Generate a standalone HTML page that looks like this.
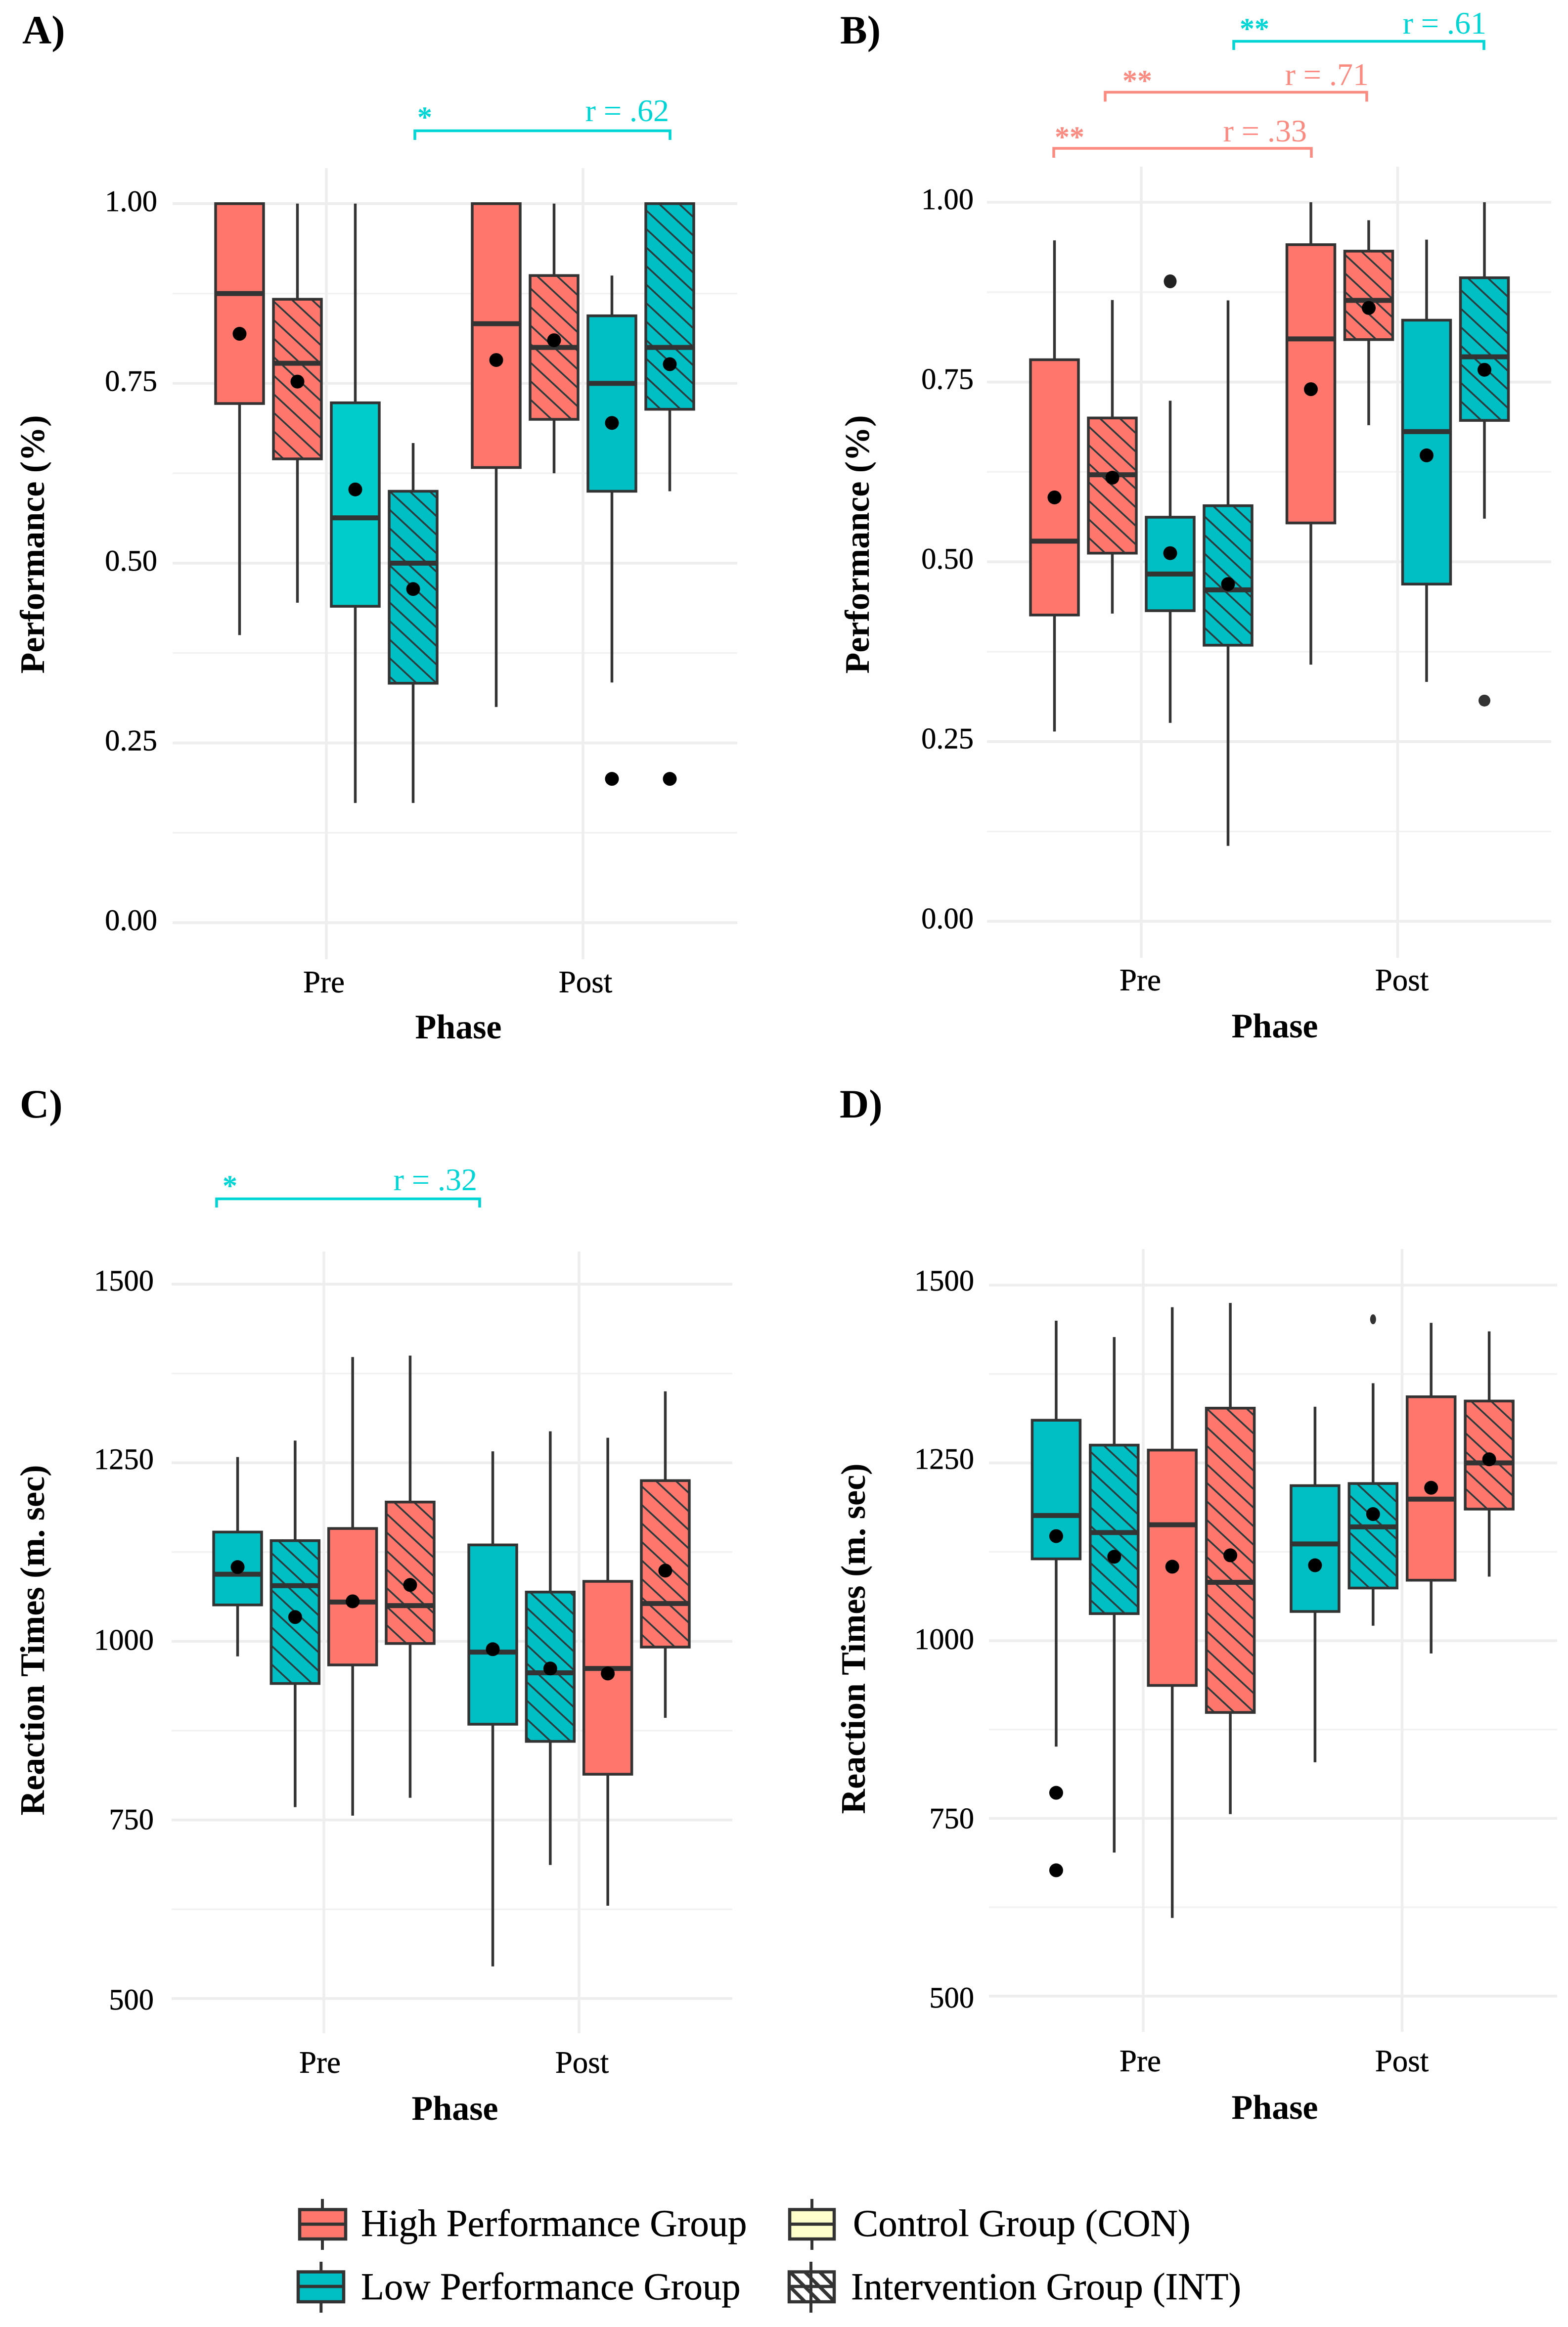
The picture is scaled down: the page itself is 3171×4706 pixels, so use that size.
<!DOCTYPE html>
<html lang="en">
<head>
<meta charset="utf-8">
<title>Performance and Reaction Times by Phase</title>
<style>
html,body{margin:0;padding:0;background:#fff;}
svg{display:block;font-family:"Liberation Serif",serif;}
.tick{font-size:60.5px;fill:#000;stroke:#000;stroke-width:.5px;}
.xtick{font-size:63px;}
.panel-label{font-size:82px;font-weight:bold;fill:#000;}
.axis-title{font-size:70px;font-weight:bold;fill:#000;text-anchor:middle;}
.legend-text{font-size:76.8px;fill:#000;stroke:#000;stroke-width:.4px;}
.sig{font-size:60px;font-weight:bold;}
.eff{font-size:64px;text-anchor:end;}
.teal{fill:#00D5D5;}
.red{fill:#FB8A80;}
</style>
</head>
<body>
<svg id="figure" xmlns="http://www.w3.org/2000/svg" width="3171" height="4706" viewBox="0 0 3171 4706">
  <defs>
    <pattern id="legend-hatch" patternUnits="userSpaceOnUse" width="30" height="30" patternTransform="translate(1593 4590)">
      <path d="M-15 -15L45 45M-15 15L15 45M15 -15L45 15" stroke="#333" stroke-width="7" fill="none"/>
    </pattern>
  </defs>
  <rect width="3171" height="4706" fill="#fff"/>
  <g id="plots"></g>

  <text class="panel-label" x="45" y="88">A)</text>
  <text class="panel-label" x="1699" y="88">B)</text>
  <text class="panel-label" x="40" y="2260">C)</text>
  <text class="panel-label" x="1698" y="2260">D)</text>

  <text class="axis-title" x="927" y="2100">Phase</text>
  <text class="axis-title" x="2578" y="2098">Phase</text>
  <text class="axis-title" x="920" y="4287">Phase</text>
  <text class="axis-title" x="2578" y="4285">Phase</text>

  <text class="axis-title" transform="translate(89 1101) rotate(-90)">Performance (%)</text>
  <text class="axis-title" transform="translate(1757 1101) rotate(-90)">Performance (%)</text>
  <text class="axis-title" transform="translate(89 3317) rotate(-90)">Reaction Times (m. sec)</text>
  <text class="axis-title" transform="translate(1749 3314) rotate(-90)">Reaction Times (m. sec)</text>

  <g>
    <path d="M839 283V264.5H1355V283" fill="none" stroke="#00D5D5" stroke-width="5.5"/>
    <text class="sig teal" x="844" y="257">*</text>
    <text class="eff teal" x="1353" y="245">r = .62</text>
  </g>
  <g>
    <path d="M2131 319V300H2652V319" fill="none" stroke="#FB8A80" stroke-width="5.5"/>
    <text class="sig red" x="2133" y="297">**</text>
    <text class="eff red" x="2643" y="286">r = .33</text>
    <path d="M2235 205.5V186.5H2764V205.5" fill="none" stroke="#FB8A80" stroke-width="5.5"/>
    <text class="sig red" x="2270" y="183">**</text>
    <text class="eff red" x="2768" y="172">r = .71</text>
    <path d="M2495 101V83.5H3001V101" fill="none" stroke="#00D5D5" stroke-width="5.5"/>
    <text class="sig teal" x="2507" y="78">**</text>
    <text class="eff teal" x="3006" y="68">r = .61</text>
  </g>
  <g>
    <path d="M438 2442V2424.5H970V2442" fill="none" stroke="#00D5D5" stroke-width="5.5"/>
    <text class="sig teal" x="450" y="2418">*</text>
    <text class="eff teal" x="965" y="2407">r = .32</text>
  </g>

  <g>
    <g>
      <path d="M652 4447V4550" stroke="#333" stroke-width="6"/>
      <rect x="606" y="4468.5" width="93" height="59.5" fill="#FE766C" stroke="#333" stroke-width="6.5"/>
      <path d="M606 4498H699" stroke="#333" stroke-width="6.5"/>
      <text class="legend-text" x="730" y="4522">High Performance Group</text>
    </g>
    <g>
      <path d="M1642 4447V4550" stroke="#333" stroke-width="6"/>
      <rect x="1597" y="4468.5" width="90" height="59.5" fill="#FFFFCC" stroke="#333" stroke-width="6.5"/>
      <path d="M1597 4498H1687" stroke="#333" stroke-width="6.5"/>
      <text class="legend-text" x="1725" y="4522">Control Group (CON)</text>
    </g>
    <g>
      <path d="M649.3 4574V4677" stroke="#333" stroke-width="6"/>
      <rect x="603" y="4594.5" width="92" height="60.5" fill="#00BFC4" stroke="#333" stroke-width="6.5"/>
      <path d="M603 4624H695" stroke="#333" stroke-width="6.5"/>
      <text class="legend-text" x="730" y="4650">Low Performance Group</text>
    </g>
    <g>
      <path d="M1640 4574V4677" stroke="#333" stroke-width="6"/>
      <rect x="1596" y="4594.5" width="91" height="60.5" fill="url(#legend-hatch)" stroke="#333" stroke-width="6.5"/>
      <path d="M1596 4624H1687" stroke="#333" stroke-width="6.5"/>
      <text class="legend-text" x="1721" y="4650">Intervention Group (INT)</text>
    </g>
  </g>
</svg>

<script>
// ---- Shared chart data ----
const categories = ["Pre", "Post"];
const performanceTicks = [0, 0.25, 0.5, 0.75, 1];
const performanceTickLabels = ["0.00", "0.25", "0.50", "0.75", "1.00"];
const reactionTicks = [500, 750, 1000, 1250, 1500];
const reactionTickLabels = ["500", "750", "1000", "1250", "1500"];
// Box order: Pre x4 then Post x4. Group and hatch for each box.
const highFirstGroups = ["High", "High", "Low", "Low", "High", "High", "Low", "Low"];
const lowFirstPrePost = ["Low", "Low", "High", "High", "Low", "Low", "High", "High"];
const interventionFlags = [false, true, false, true, false, true, false, true];

// ---- Panel A ----
const aWhiskerHigh = [1.0, 1.0, 1.0, 0.667, 1.0, 1.0, 0.90, 1.0];
const aQ3 = [1.0, 0.867, 0.723, 0.60, 1.0, 0.90, 0.844, 1.0];
const aMedian = [0.875, 0.778, 0.563, 0.50, 0.833, 0.80, 0.75, 0.80];
const aQ1 = [0.722, 0.645, 0.44, 0.333, 0.633, 0.70, 0.60, 0.714];
const aWhiskerLow = [0.40, 0.445, 0.1665, 0.1665, 0.30, 0.625, 0.334, 0.60];
const aMean = [0.819, 0.7525, 0.6025, 0.464, 0.7825, 0.81, 0.695, 0.7767];
const aOutliers = [[], [], [], [], [], [], [0.20], [0.20]];

// ---- Panel B ----
const bWhiskerHigh = [0.947, 0.864, 0.724, 0.8635, 1.0, 0.975, 0.948, 1.0];
const bQ3 = [0.781, 0.70, 0.562, 0.578, 0.941, 0.932, 0.836, 0.895];
const bMedian = [0.5287, 0.621, 0.483, 0.461, 0.81, 0.8635, 0.681, 0.785];
const bQ1 = [0.426, 0.512, 0.432, 0.384, 0.554, 0.809, 0.469, 0.6966];
const bWhiskerLow = [0.264, 0.428, 0.276, 0.105, 0.357, 0.69, 0.333, 0.56];
const bMean = [0.5895, 0.617, 0.512, 0.469, 0.74, 0.853, 0.648, 0.767];
const bOutliers = [[], [], [0.89], [], [], [], [], [0.307]];

// ---- Panel C ----
const cWhiskerHigh = [1258, 1281, 1398, 1400, 1266, 1294, 1285, 1350];
const cQ3 = [1153, 1141, 1158, 1195, 1135, 1069, 1084, 1225];
const cMedian = [1094, 1078, 1055, 1050, 985, 956, 962, 1053];
const cQ1 = [1051, 941, 967, 997, 884, 860, 814, 992];
const cWhiskerLow = [979, 768, 756, 781, 545, 687, 630, 893];
const cMean = [1104, 1034, 1056, 1079, 989, 962, 955, 1099];
const cOutliers = [[], [], [], [], [], [], [], []];

// ---- Panel D ----
const dWhiskerHigh = [1450, 1427, 1469, 1475, 1329, 1362, 1447, 1435];
const dQ3 = [1310, 1275, 1268, 1327, 1218, 1221, 1343, 1337];
const dMedian = [1176, 1152, 1163, 1082, 1136, 1160, 1199, 1250];
const dQ1 = [1115, 1038, 937, 899, 1041, 1074, 1085, 1185];
const dWhiskerLow = [851, 702, 610, 756, 829, 1021, 982, 1090];
const dMean = [1147, 1118, 1104, 1120, 1106, 1178, 1215, 1255];
const dOutliers = [[786, 677], [], [], [], [], [1452], [], []];

// ---- Drawing ----
const NS = "http://www.w3.org/2000/svg";
const root = document.getElementById("plots");
const PALETTE = { High: "#FE766C", Low: "#00BFC4" };
const BOX_W = 97;

function make(tag, attrs, parent) {
  const el = document.createElementNS(NS, tag);
  for (const k in attrs) el.setAttribute(k, attrs[k]);
  parent.appendChild(el);
  return el;
}

function linearScale(d0, d1, r0, r1) {
  return function (v) { return r0 + (v - d0) * (r1 - r0) / (d1 - d0); };
}

function hatchPath(x1, y1, x2, y2) {
  const m = 0.93, step = 37.5;
  const cx = (x1 + x2) / 2, cy = (y1 + y2) / 2;
  const reach = Math.ceil(((y2 - y1) / 2 + m * (x2 - x1) / 2) / step) + 1;
  let d = "";
  for (let k = -reach; k <= reach; k++) {
    const c = cy - m * cx + k * step;
    let xa = x1, xb = x2;
    xa = Math.max(xa, (y1 - c) / m);
    xb = Math.min(xb, (y2 - c) / m);
    if (xb <= xa) continue;
    d += "M" + xa.toFixed(1) + " " + (m * xa + c).toFixed(1) + "L" + xb.toFixed(1) + " " + (m * xb + c).toFixed(1);
  }
  return d;
}

function outlierStyle(panelId, i) {
  if (panelId === "d" && i === 5) return { fill: "#333", rx: 6, ry: 10 };
  if (panelId === "b" && i === 7) return { fill: "#333", rx: 12, ry: 12 };
  if (panelId === "b" && i === 2) return { fill: "#222", rx: 13, ry: 14 };
  return { fill: "#000", rx: 14, ry: 14 };
}

function drawPanel(p) {
  const g = make("g", {}, root);
  
  

  const y = linearScale(p.domain[0], p.domain[1], p.yRange[0], p.yRange[1]);
  const x = function (cat, slot) { return p.xCenters[cat] + (slot - 1.5) * p.dodge; };

  // Minor horizontal grid
  for (let i = 0; i + 1 < p.ticks.length; i++) {
    const my = y((p.ticks[i] + p.ticks[i + 1]) / 2);
    const minor = make("line", { x1: p.left, x2: p.right, y1: my, y2: my, stroke: "#F2F2F2", "stroke-width": 3.5 }, g);
    
    
  }
  // Major horizontal grid and y ticks
  p.ticks.forEach(function (t, i) {
    const major = make("line", { x1: p.left, x2: p.right, y1: y(t), y2: y(t), stroke: "#EEEEEE", "stroke-width": 5.5 }, g);
    
    
    const label = make("text", { class: "tick", x: p.tickRight, y: y(t) + p.tickDrops[i], "text-anchor": "end" }, g);
    
    
    label.textContent = p.tickLabels[i];
  });
  // Vertical grid and x ticks
  categories.forEach(function (c, i) {
    const vx = p.xCenters[i];
    const grid = make("line", { x1: vx, x2: vx, y1: p.top, y2: p.bottom, stroke: "#EEEEEE", "stroke-width": 5.5 }, g);
    
    
    const label = make("text", { class: "tick xtick", x: p.xLabels[i], y: p.xLabelY, "text-anchor": "middle" }, g);
    
    
    label.textContent = c;
  });

  // Boxes
  p.median.forEach(function (_, i) {
    const cat = Math.floor(i / 4), slot = i % 4;
    const cx = x(cat, slot);
    const box = make("g", {}, g);
    
    

    const whisker = make("path", {
      d: "M" + cx + " " + y(p.whiskerHigh[i]) + "V" + y(p.q3[i]) + "M" + cx + " " + y(p.q1[i]) + "V" + y(p.whiskerLow[i]),
      stroke: "#333", "stroke-width": 5.5, fill: "none"
    }, box);
    
    

    const x1 = cx - BOX_W / 2, x2 = cx + BOX_W / 2, yTop = y(p.q3[i]), yBot = y(p.q1[i]);
    const fill = (p.id === "a" && i === 2) ? "#00CCCC" : PALETTE[p.groups[i]];
    const rect = make("rect", { x: x1, y: yTop, width: BOX_W, height: yBot - yTop, fill: fill, stroke: "none" }, box);
    
    

    if (interventionFlags[i]) {
      const hatch = make("path", { d: hatchPath(x1, yTop, x2, yBot), stroke: "#2d3a3c", "stroke-width": 3.5, fill: "none" }, box);
      
      
    }
    const outline = make("rect", { x: x1, y: yTop, width: BOX_W, height: yBot - yTop, fill: "none", stroke: "#333", "stroke-width": 5.5 }, box);
    
    

    const med = make("line", { x1: x1, x2: x2, y1: y(p.median[i]), y2: y(p.median[i]), stroke: "#333", "stroke-width": 10 }, box);
    
    

    p.outliers[i].forEach(function (v) {
      const st = outlierStyle(p.id, i);
      const o = make("ellipse", { cx: cx, cy: y(v), rx: st.rx, ry: st.ry, fill: st.fill }, box);
      
      
    });

    const mean = make("circle", { cx: cx, cy: y(p.mean[i]), r: 14, fill: "#000" }, box);
    
    
  });
}

const panels = [
  { id: "a", domain: [0, 1], yRange: [1866, 411.8], left: 349, right: 1491, top: 340, bottom: 1940,
    xCenters: [660, 1179], dodge: 117, tickRight: 318, tickDrops: [15, 15, 15, 15, 15], xLabels: [655, 1184], xLabelY: 2007,
    ticks: performanceTicks, tickLabels: performanceTickLabels, groups: highFirstGroups,
    whiskerHigh: aWhiskerHigh, q3: aQ3, median: aMedian, q1: aQ1, whiskerLow: aWhiskerLow, mean: aMean, outliers: aOutliers },
  { id: "b", domain: [0, 1], yRange: [1863.3, 409], left: 1996, right: 3137, top: 337, bottom: 1937,
    xCenters: [2308, 2826.5], dodge: 117, tickRight: 1969, tickDrops: [14, 14, 14, 14, 14], xLabels: [2306, 2835], xLabelY: 2003,
    ticks: performanceTicks, tickLabels: performanceTickLabels, groups: highFirstGroups,
    whiskerHigh: bWhiskerHigh, q3: bQ3, median: bMedian, q1: bQ1, whiskerLow: bWhiskerLow, mean: bMean, outliers: bOutliers },
  { id: "c", domain: [500, 1500], yRange: [4041.8, 2597], left: 347, right: 1481, top: 2531, bottom: 4112,
    xCenters: [655, 1171], dodge: 116.3, tickRight: 311, tickDrops: [22, 19, 17, 13, 13], xLabels: [647, 1177], xLabelY: 4192,
    ticks: reactionTicks, tickLabels: reactionTickLabels, groups: lowFirstPrePost,
    whiskerHigh: cWhiskerHigh, q3: cQ3, median: cMedian, q1: cQ1, whiskerLow: cWhiskerLow, mean: cMean, outliers: cOutliers },
  { id: "d", domain: [500, 1500], yRange: [4036.9, 2599], left: 2000, right: 3149, top: 2526, bottom: 4109,
    xCenters: [2312, 2835.5], dodge: 117.4, tickRight: 1970, tickDrops: [23, 20, 17, 12, 11], xLabels: [2306, 2835], xLabelY: 4189,
    ticks: reactionTicks, tickLabels: reactionTickLabels, groups: lowFirstPrePost,
    whiskerHigh: dWhiskerHigh, q3: dQ3, median: dMedian, q1: dQ1, whiskerLow: dWhiskerLow, mean: dMean, outliers: dOutliers }
];

panels.forEach(drawPanel);
</script>
</body>
</html>
